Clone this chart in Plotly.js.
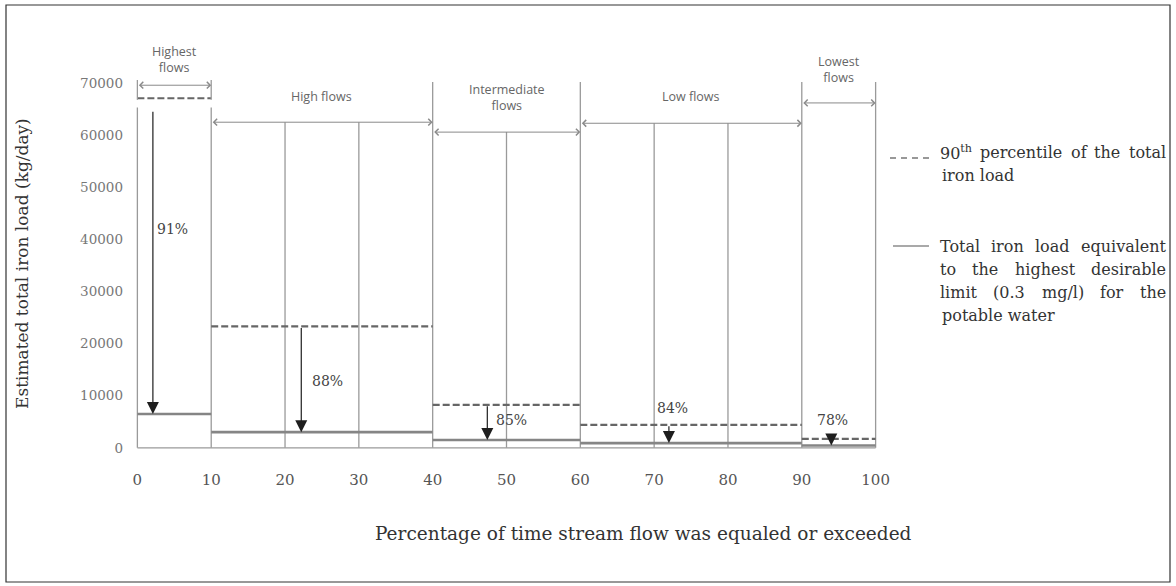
<!DOCTYPE html>
<html>
<head>
<meta charset="utf-8">
<script src="https://cdn.plot.ly/plotly-3.0.1.min.js"></script>
<style>
  html, body { margin: 0; padding: 0; background: #fff; }
  #chart { width: 1176px; height: 586px; }
</style>
</head>
<body>
<div id="chart"></div>
<script>
// ---------------- DATA ----------------
const xEdges      = [0, 10, 40, 60, 90, 100];          // flow-duration interval edges (%)
const regimes     = ['Highest<br>flows', 'High flows', 'Intermediate<br>flows', 'Low flows', 'Lowest<br>flows'];
const pct90Load   = [67100, 23300, 8250, 4400, 1700];   // 90th percentile of total iron load (kg/day)
const limitLoad   = [6500, 3000, 1500, 900, 450];       // load at 0.3 mg/l limit (kg/day)
const reduction   = ['91%', '88%', '85%', '84%', '78%'];// required reduction
const xTickVals   = [0, 10, 20, 30, 40, 50, 60, 70, 80, 90, 100];
const yTickVals   = [0, 10000, 20000, 30000, 40000, 50000, 60000, 70000];
const yTickText   = ['0', '10000', '20000', '30000', '40000', '50000', '60000', '70000'];

// ---------------- LAYOUT HELPERS (positions only) ----------------
const dividerX    = [0, 10, 20, 30, 40, 50, 60, 70, 80, 90, 100];
const dividerTop  = [65300, 65300, 62500, 62500, 70200, 60600, 70200, 62300, 62300, 70200, 70200];
const bracketY    = [69600, 62500, 60600, 62300, 66200];
const regimeLabelY= [74600, 67500, 67300, 67500, 72700];
const arrowX      = [2.1, 22.2, 47.4, 72, 94];
const arrowTop    = [64800, 23300, 8250, 4400, 1700];
const pctPos      = [[2.4, 42000, 'left'], [23.4, 12850, 'left'], [48.3, 5400, 'left'], [72.5, 7700, 'center'], [94.2, 5400, 'center']];

// pixel -> paper helpers (plot area: x 130..883, y 5..453)
const L = 130, R = 293, T = 5, B = 133, W = 1176, H = 586;
const PW = W - L - R, PH = H - T - B;
const px = v => (v - L) / PW;
const py = v => (H - B - v) / PH;

// ---------------- TRACES ----------------
function segments(vals) {
  const xs = [], ys = [];
  for (let i = 0; i < vals.length; i++) {
    xs.push(xEdges[i], xEdges[i + 1], null);
    ys.push(vals[i], vals[i], null);
  }
  return {xs, ys};
}
const s90 = segments(pct90Load);
const sLim = segments(limitLoad);

const traces = [
  {x: s90.xs, y: s90.ys, mode: 'lines', type: 'scatter', name: '90th percentile of the total iron load',
   line: {color: '#666', width: 2.2, dash: '7px,3px'}, hoverinfo: 'skip', showlegend: false},
  {x: sLim.xs, y: sLim.ys, mode: 'lines', type: 'scatter', name: 'Total iron load equivalent to the highest desirable limit (0.3 mg/l)',
   line: {color: '#858585', width: 2.6}, hoverinfo: 'skip', showlegend: false}
];

// ---------------- SHAPES ----------------
const shapes = [];
const grey = '#9a9a9a';
dividerX.forEach((x, i) => {
  shapes.push({type: 'line', xref: 'x', yref: 'y', x0: x, x1: x, y0: 0, y1: dividerTop[i],
               line: {color: grey, width: 1.3}, layer: 'below'});
});
shapes.push({type: 'line', xref: 'x', yref: 'y', x0: 0, x1: 100, y0: 0, y1: 0, line: {color: grey, width: 1.3}, layer: 'below'});
[0, 10].forEach(x => shapes.push({type: 'line', xref: 'x', yref: 'y', x0: x, x1: x, y0: 66800, y1: 70600,
                                  line: {color: grey, width: 1.3}}));
shapes.push({type: 'rect', xref: 'paper', yref: 'paper', x0: px(6), x1: px(1170), y0: py(582), y1: py(5),
             line: {color: '#333', width: 1.2}, fillcolor: 'rgba(0,0,0,0)'});
shapes.push({type: 'line', xref: 'paper', yref: 'paper', x0: px(890), x1: px(932), y0: py(158), y1: py(158),
             line: {color: '#777', width: 1.5, dash: '6px,5px'}});
shapes.push({type: 'line', xref: 'paper', yref: 'paper', x0: px(893), x1: px(929), y0: py(246), y1: py(246),
             line: {color: '#555', width: 1.2}});

// ---------------- ANNOTATIONS ----------------
const ann = [];
const sans = {family: 'Open Sans, sans-serif', size: 12.5, color: '#666'};
const serifFam = 'DejaVu Serif';
const serif = serifFam + ', serif';

for (let i = 0; i < regimes.length; i++) {
  const a = xEdges[i], b = xEdges[i + 1], mid = (a + b) / 2;
  ann.push({x: b, y: bracketY[i], ax: a, ay: bracketY[i], xref: 'x', yref: 'y', axref: 'x', ayref: 'y',
            text: '', showarrow: true, arrowside: 'end+start', arrowhead: 4, arrowsize: 1.3, arrowwidth: 1,
            arrowcolor: '#8a8a8a', standoff: 0, startstandoff: 0});
  ann.push({x: mid, y: regimeLabelY[i], xref: 'x', yref: 'y', text: regimes[i], showarrow: false,
            font: sans, xanchor: 'center', yanchor: 'middle'});
  ann.push({x: arrowX[i], y: limitLoad[i], ax: arrowX[i], ay: arrowTop[i], xref: 'x', yref: 'y', axref: 'x', ayref: 'y',
            text: '', showarrow: true, arrowhead: 2, arrowsize: 2, arrowwidth: 1.2, arrowcolor: '#1e1e1e',
            standoff: 0, startstandoff: 0});
  ann.push({x: pctPos[i][0], y: pctPos[i][1], xref: 'x', yref: 'y', text: reduction[i], showarrow: false,
            xanchor: pctPos[i][2], yanchor: 'middle', font: {family: serif, size: 14, color: '#444'}});
}

ann.push({x: px(22), y: py(263), xref: 'paper', yref: 'paper', text: 'Estimated total iron load (kg/day)',
          textangle: -90, showarrow: false, font: {family: serif, size: 17, color: '#333'}, xanchor: 'center', yanchor: 'middle'});
ann.push({x: px(643), y: py(533), xref: 'paper', yref: 'paper', text: 'Percentage of time stream flow was equaled or exceeded',
          showarrow: false, font: {family: serif, size: 18.5, color: '#333'}, xanchor: 'center', yanchor: 'middle'});

// legend text, justified between x=940 and x=1166 (last line of each paragraph left-aligned)
const legSize = 16;
const legFont = {family: serif, size: legSize, color: '#333'};
const ctx = document.createElement('canvas').getContext('2d');
function wordWidth(w) {
  const m = w.match(/^(.*)<sup>(.*)<\/sup>(.*)$/);
  ctx.font = legSize + 'px "' + serifFam + '"';
  if (!m) return ctx.measureText(w).width;
  let wd = ctx.measureText(m[1] + m[3]).width;
  ctx.font = (legSize * 0.7) + 'px "' + serifFam + '"';
  return wd + ctx.measureText(m[2]).width;
}
const legX0 = 940, legX1 = 1166;
const legLines = [
  ['90<sup>th</sup> percentile of the total', 152, true],
  ['iron load', 175, false],
  ['Total iron load equivalent', 246, true],
  ['to the highest desirable', 269, true],
  ['limit (0.3 mg/l) for the', 292, true],
  ['potable water', 315, false]
];
legLines.forEach(([t, y, just]) => {
  if (!just) {
    ann.push({x: px(legX0), y: py(y), xref: 'paper', yref: 'paper', text: t, showarrow: false,
              xanchor: 'left', yanchor: 'middle', font: legFont});
    return;
  }
  const words = t.split(' ');
  const widths = words.map(wordWidth);
  const total = widths.reduce((a, b) => a + b, 0);
  const gap = Math.max(2, (legX1 - legX0 - total) / (words.length - 1));
  let cx = legX0;
  words.forEach((w, k) => {
    ann.push({x: px(cx), y: py(y), xref: 'paper', yref: 'paper', text: w, showarrow: false,
              xanchor: 'left', yanchor: 'middle', font: legFont, borderpad: 0, xshift: -1});
    cx += widths[k] + gap;
  });
});

// ---------------- LAYOUT ----------------
const layout = {
  width: W, height: H,
  margin: {l: L, r: R, t: T, b: B},
  paper_bgcolor: '#fff', plot_bgcolor: '#fff',
  showlegend: false,
  xaxis: {range: [-1, 101], tickvals: xTickVals, ticktext: xTickVals.map(String), showgrid: false, zeroline: false,
          showline: false, ticks: '', ticklabelstandoff: 16, tickfont: {family: serif, size: 15, color: '#555'}},
  yaxis: {range: [-1000, 85000], tickvals: yTickVals, ticktext: yTickText, showgrid: false, zeroline: false,
          showline: false, ticks: '', ticklabelstandoff: 6, tickfont: {family: serif, size: 13.5, color: '#777'}},
  shapes: shapes,
  annotations: ann
};

Plotly.newPlot('chart', traces, layout, {displayModeBar: false, staticPlot: true});
</script>
</body>
</html>
